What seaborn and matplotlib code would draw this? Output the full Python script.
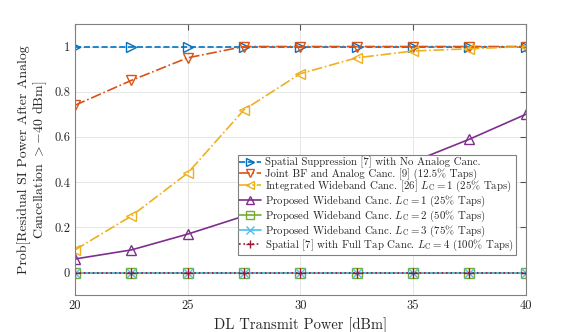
import matplotlib
matplotlib.use("Agg")
import matplotlib.pyplot as plt
import pandas as pd
import seaborn as sns

# data
power_dbm = [20, 22.5, 25, 27.5, 30, 32.5, 35, 37.5, 40]
spatial_no_analog = [1, 1, 1, 1, 1, 1, 1, 1, 1]
joint_bf = [0.74, 0.85, 0.95, 1.0, 1.0, 1.0, 1.0, 1.0, 1.0]
integrated_lc1 = [0.10, 0.25, 0.44, 0.72, 0.88, 0.95, 0.98, 0.99, 1.0]
proposed_lc1 = [0.06, 0.10, 0.17, 0.25, 0.32, 0.40, 0.49, 0.59, 0.70]
proposed_lc2 = [0, 0, 0, 0, 0, 0, 0, 0, 0]
proposed_lc3 = [0, 0, 0, 0, 0, 0, 0, 0, 0]
spatial_full = [0, 0, 0, 0, 0, 0, 0, 0, 0]

labels = [
    "Spatial Suppression [7] with No Analog Canc.",
    "Joint BF and Analog Canc. [9] (12.5% Taps)",
    "Integrated Wideband Canc. [26] $L_{\\mathrm{C}}=1$ (25% Taps)",
    "Proposed Wideband Canc. $L_{\\mathrm{C}}=1$ (25% Taps)",
    "Proposed Wideband Canc. $L_{\\mathrm{C}}=2$ (50% Taps)",
    "Proposed Wideband Canc. $L_{\\mathrm{C}}=3$ (75% Taps)",
    "Spatial [7] with Full Tap Canc. $L_{\\mathrm{C}}=4$ (100% Taps)",
]
series = [spatial_no_analog, joint_bf, integrated_lc1, proposed_lc1,
          proposed_lc2, proposed_lc3, spatial_full]
colors = ["#0072BD", "#D95319", "#EDB120", "#7E2F8E", "#77AC30", "#4DBEEE", "#A2142F"]
styles = ["--", "-.", "-.", "-", "-", "-", ":"]
markers = [">", "v", "<", "^", "s", "x", "+"]

sns.set_style("whitegrid")
plt.rcParams["font.family"] = ["cmr10", "DejaVu Serif"]
plt.rcParams["mathtext.fontset"] = "cm"
plt.rcParams["axes.formatter.use_mathtext"] = True

fig = plt.figure(figsize=(5.81, 3.32), dpi=100)
ax = fig.add_axes([0.129, 0.111, 0.776, 0.817])

for lab, vals, c, ls, m in zip(labels, series, colors, styles, markers):
    df = pd.DataFrame({"x": power_dbm, "y": vals})
    sns.lineplot(data=df, x="x", y="y", ax=ax, color=c, linestyle=ls,
                 marker=m, markersize=7, markerfacecolor="none",
                 markeredgecolor=c, markeredgewidth=1.0, linewidth=1.2,
                 label=lab)

ax.set_xlim(20, 40)
ax.set_ylim(-0.1, 1.1)
ax.set_xticks([20, 25, 30, 35, 40])
ax.set_xticklabels(["20", "25", "30", "35", "40"])
ax.set_yticks([0, 0.2, 0.4, 0.6, 0.8, 1])
ax.set_yticklabels(["0", "0.2", "0.4", "0.6", "0.8", "1"])
ax.tick_params(axis="both", labelsize=9, direction="in", length=4,
               color="#555555", top=True, right=True, labelcolor="#262626")
ax.grid(True, color="#e6e6e6", linewidth=0.7)
for sp in ax.spines.values():
    sp.set_color("#808080")
    sp.set_linewidth(0.8)

ax.set_xlabel("DL Transmit Power [dBm]", fontsize=10.5, color="#262626")
ax.set_ylabel("Prob[Residual SI Power After Analog\nCancellation $>-40$ dBm]",
              fontsize=10, color="#262626", linespacing=1.0)

leg = ax.legend(loc="lower right", bbox_to_anchor=(0.978, 0.148), fontsize=7.8,
                frameon=True, fancybox=False, framealpha=1, edgecolor="#808080",
                borderpad=0.15, labelspacing=-0.05, handlelength=2.0,
                handletextpad=0.4, borderaxespad=0, markerscale=0.85)
leg.get_frame().set_linewidth(0.8)

fig.savefig("out.png", dpi=100)
